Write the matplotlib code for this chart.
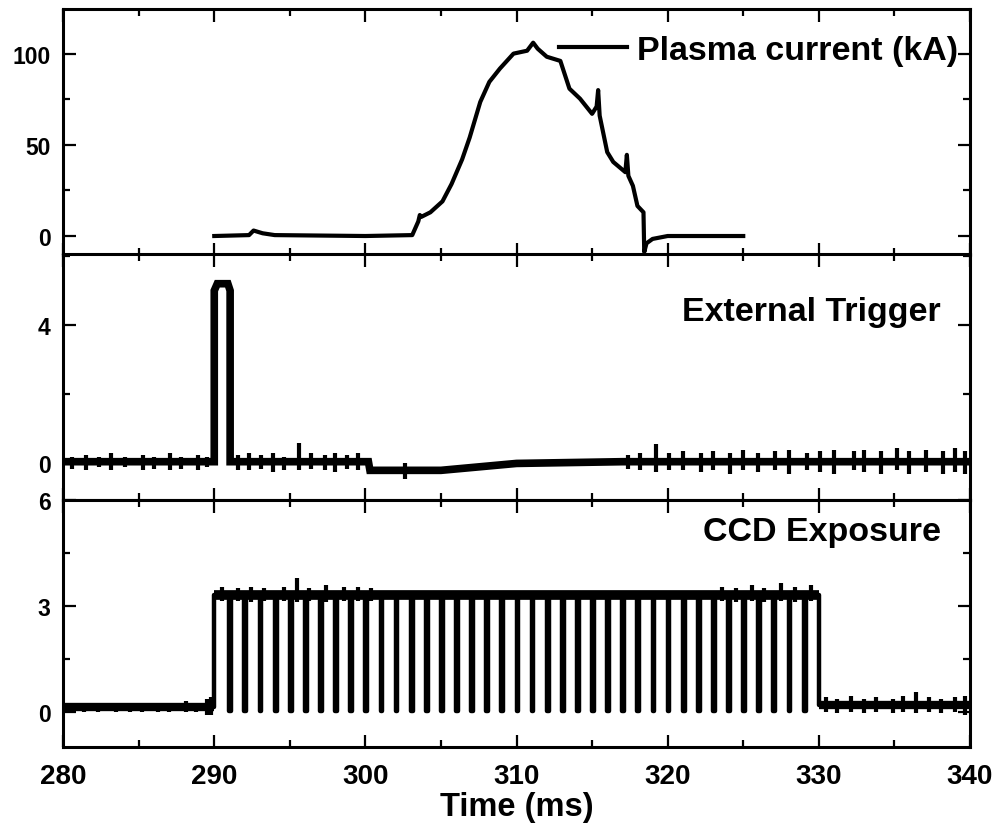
import numpy as np
from matplotlib import pyplot as plt
from matplotlib.ticker import MultipleLocator

plt.rcParams['font.family'] = ['Liberation Sans', 'DejaVu Sans']
plt.rcParams['font.weight'] = 'bold'

# plasma current trace (ms, kA)
ip_t = [290.0, 292.3, 292.6, 293.2, 294.0, 300.0, 303.1, 303.5, 303.6, 303.7,
        304.3, 305.1, 305.7, 306.4, 306.9, 307.6, 308.2, 308.9, 309.8, 310.7,
        311.1, 311.4, 312.0, 312.9, 313.5, 314.2, 315.0, 315.3, 315.4, 315.5,
        316.0, 316.4, 317.2, 317.3, 317.4, 317.7, 318.0, 318.4, 318.45, 318.6,
        319.0, 320.0, 325.0]
ip_v = [0.0, 0.5, 3.0, 1.5, 0.5, 0.0, 0.5, 8.0, 11.5, 10.5,
        13.0, 19.0, 28.5, 42.0, 54.0, 73.5, 84.5, 91.8, 100.0, 101.6,
        106.0, 102.7, 98.3, 96.0, 80.8, 75.3, 67.0, 71.0, 80.0, 66.0,
        46.0, 40.6, 35.0, 44.5, 33.0, 27.5, 16.5, 13.0, -8.8, -4.0,
        -1.6, 0.0, 0.0]

# external trigger, main shape (ms, V)
trig_t = [280.0, 290.0, 290.0, 290.2, 290.9, 291.05, 291.05, 300.2, 300.3,
          305.0, 310.0, 317.0, 340.0]
trig_v = [0.05, 0.05, 5.0, 5.2, 5.2, 5.0, 0.05, 0.05, -0.2,
          -0.2, 0.0, 0.05, 0.05]
# noise excursions on the trigger baseline (ms, low, high)
trig_spk_t = [280.6, 281.5, 282.4, 283.2, 284.1, 285.3, 286.0, 287.1, 287.8,
              288.9, 289.5, 291.6, 292.3, 293.1, 293.9, 294.6, 295.6, 296.4,
              297.3, 298.0, 298.8, 299.5, 302.6, 317.4, 318.2, 319.2, 320.1,
              321.0, 322.2, 323.0, 324.1, 325.0, 326.0, 327.1, 328.0, 329.2,
              330.1, 331.0, 332.3, 333.0, 334.1, 335.2, 336.0, 337.1, 338.2,
              339.0, 339.7]
trig_spk_lo = [-0.15, -0.2, -0.1, -0.2, -0.1, -0.2, -0.15, -0.2, -0.15,
               -0.2, -0.1, -0.2, -0.2, -0.15, -0.25, -0.2, -0.2, -0.15,
               -0.2, -0.25, -0.15, -0.2, -0.45, -0.15, -0.2, -0.25, -0.2,
               -0.2, -0.25, -0.2, -0.3, -0.2, -0.25, -0.2, -0.3, -0.2,
               -0.25, -0.3, -0.2, -0.25, -0.3, -0.2, -0.3, -0.25, -0.3,
               -0.25, -0.3]
trig_spk_hi = [0.2, 0.25, 0.2, 0.3, 0.2, 0.25, 0.2, 0.3, 0.2,
               0.25, 0.2, 0.25, 0.3, 0.25, 0.3, 0.2, 0.6, 0.3,
               0.25, 0.3, 0.25, 0.3, 0.0, 0.25, 0.3, 0.55, 0.3,
               0.35, 0.3, 0.35, 0.3, 0.4, 0.3, 0.35, 0.4, 0.3,
               0.35, 0.4, 0.35, 0.4, 0.35, 0.45, 0.35, 0.4, 0.35,
               0.45, 0.35]

# CCD exposure: levels and dip times (ms, V)
ccd_rise = 290.0
ccd_fall = 330.0
ccd_dips = [291, 292, 293, 294, 295, 296, 297, 298, 299, 300,
            301, 302, 303, 304, 305, 306, 307, 308, 309, 310,
            311, 312, 313, 314, 315, 316, 317, 318, 319, 320,
            321, 322, 323, 324, 325, 326, 327, 328, 329]
ccd_dip_width = 0.12
ccd_before = 0.12
ccd_high = 3.3
ccd_dip_low = 0.02
ccd_after = 0.18
# noise excursions on the CCD trace (ms, low, high)
ccd_spk_t = [280.5, 281.4, 282.3, 283.5, 284.4, 285.2, 286.3, 287.0, 288.1,
             288.8, 289.5, 289.8, 290.5, 291.6, 292.4, 293.3, 294.6, 295.5,
             296.3, 297.4, 298.6, 299.5, 300.4, 323.6, 324.5, 325.6, 326.4,
             327.5, 328.4, 329.5, 330.5, 331.2, 332.1, 333.0, 333.8, 334.9,
             335.6, 336.4, 337.3, 338.1, 339.0, 339.7]
ccd_spk_lo = [0.0, -0.02, 0.0, -0.02, 0.0, 0.0, -0.02, 0.0, -0.02,
              0.0, -0.1, -0.1, 3.15, 3.15, 3.1, 3.15, 3.15, 3.1,
              3.15, 3.1, 3.15, 3.15, 3.15, 3.15, 3.1, 3.15, 3.1,
              3.15, 3.1, 3.15, 0.0, -0.05, 0.0, -0.05, 0.0, -0.05,
              0.0, -0.05, 0.0, -0.05, 0.0, -0.1]
ccd_spk_hi = [0.25, 0.2, 0.25, 0.2, 0.25, 0.2, 0.25, 0.2, 0.3,
              0.25, 0.35, 0.4, 3.55, 3.5, 3.55, 3.5, 3.55, 3.8,
              3.5, 3.6, 3.55, 3.55, 3.5, 3.55, 3.5, 3.6, 3.5,
              3.65, 3.55, 3.6, 0.4, 0.35, 0.45, 0.35, 0.4, 0.35,
              0.45, 0.55, 0.4, 0.35, 0.4, 0.45]

# step waveform for the CCD gate
ccd_t = [280.0, ccd_rise, ccd_rise]
ccd_v = [ccd_before, ccd_before, ccd_high]
for d in ccd_dips:
    ccd_t += [d, d, d + ccd_dip_width, d + ccd_dip_width]
    ccd_v += [ccd_high, ccd_dip_low, ccd_dip_low, ccd_high]
ccd_t += [ccd_fall, ccd_fall, 340.0]
ccd_v += [ccd_high, ccd_after, ccd_after]

fig = plt.figure(figsize=(10.02, 8.29), dpi=100)
left, width = 0.063, 0.905
ax1 = fig.add_axes([left, 0.691, width, 0.297])
ax2 = fig.add_axes([left, 0.396, width, 0.296])
ax3 = fig.add_axes([left, 0.098, width, 0.298])

ax1.plot(ip_t, ip_v, color='black', lw=3, label='Plasma current (kA)')
ax1.set_ylim(-10.5, 124.5)
ax1.yaxis.set_major_locator(MultipleLocator(50))
ax1.yaxis.set_minor_locator(MultipleLocator(25))
ax1.legend(loc='center right', bbox_to_anchor=(0.987, 0.83), frameon=False,
           fontsize=24.5, handlelength=2.0, handletextpad=0.3,
           borderpad=0, borderaxespad=0)

ax2.plot(trig_t, trig_v, color='black', lw=5.5, solid_joinstyle='miter')
ax2.vlines(trig_spk_t, trig_spk_lo, trig_spk_hi, color='black', lw=3)
ax2.set_ylim(-1.05, 6.05)
ax2.yaxis.set_major_locator(MultipleLocator(4))
ax2.yaxis.set_minor_locator(MultipleLocator(2))
ax2.text(0.968, 0.768, 'External Trigger', transform=ax2.transAxes,
         ha='right', va='center', fontsize=24.5)

ax3.plot(ccd_t, ccd_v, color='black', lw=3.2)
ax3.hlines(ccd_high, ccd_rise, ccd_fall, color='black', lw=7)
ax3.hlines([ccd_before, ccd_after], [280.0, ccd_fall], [ccd_rise, 340.0],
           color='black', lw=6)
ax3.vlines(ccd_spk_t, ccd_spk_lo, ccd_spk_hi, color='black', lw=3)
ax3.set_ylim(-1.0, 6.02)
ax3.yaxis.set_major_locator(MultipleLocator(3))
ax3.yaxis.set_minor_locator(MultipleLocator(1.5))
ax3.text(0.968, 0.87, 'CCD Exposure', transform=ax3.transAxes,
         ha='right', va='center', fontsize=24.5)
ax3.set_xlabel('Time (ms)', fontsize=23.5, fontweight='bold', labelpad=1)

for ax in (ax1, ax2, ax3):
    ax.set_xlim(280, 340)
    ax.xaxis.set_major_locator(MultipleLocator(10))
    ax.xaxis.set_minor_locator(MultipleLocator(5))
    ax.tick_params(which='both', direction='in', top=True, right=True,
                   width=1.6)
    ax.tick_params(which='major', length=9)
    ax.tick_params(which='minor', length=5)
    ax.tick_params(axis='y', labelsize=16.5, pad=9)
    for s in ax.spines.values():
        s.set_linewidth(2.2)
for ax in (ax1, ax2):
    ax.tick_params(axis='x', labelbottom=False)
ax3.tick_params(axis='x', labelsize=20, pad=12)

plt.savefig('out.png', dpi=100)
